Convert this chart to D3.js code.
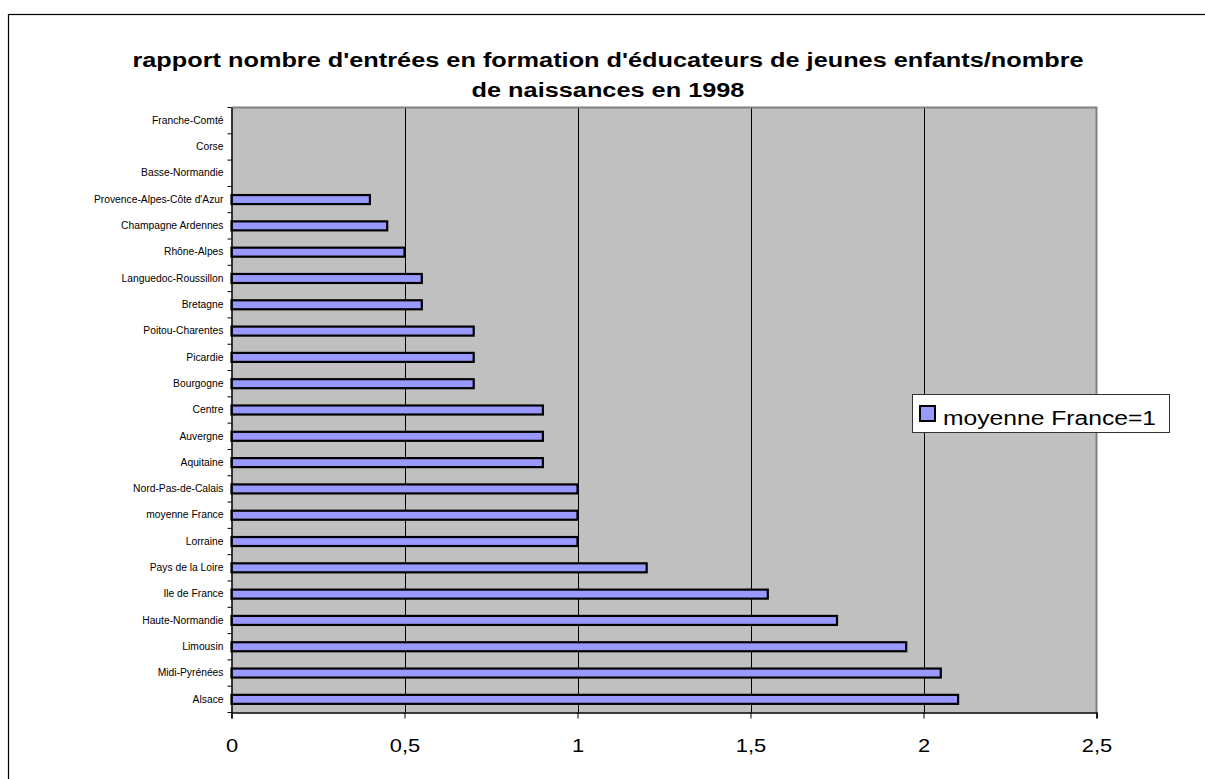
<!DOCTYPE html>
<html><head><meta charset="utf-8">
<script src="https://cdn.jsdelivr.net/npm/d3@7"></script>
<style>body{margin:0;background:#fff}svg{display:block}text{font-family:"Liberation Sans",Arial,sans-serif}</style>
</head><body><svg id="c" width="1205" height="779"></svg>
<script>
const categories = ["Alsace","Midi-Pyrénées","Limousin","Haute-Normandie","Ile de France","Pays de la Loire","Lorraine","moyenne France","Nord-Pas-de-Calais","Aquitaine","Auvergne","Centre","Bourgogne","Picardie","Poitou-Charentes","Bretagne","Languedoc-Roussillon","Rhône-Alpes","Champagne Ardennes","Provence-Alpes-Côte d'Azur","Basse-Normandie","Corse","Franche-Comté"];
const values = [2.1,2.05,1.95,1.75,1.55,1.2,1.0,1.0,1.0,0.9,0.9,0.9,0.7,0.7,0.7,0.55,0.55,0.5,0.45,0.4,0,0,0];
const xTicks = [0,0.5,1,1.5,2,2.5];
const xTickLabels = ["0","0,5","1","1,5","2","2,5"];
const seriesName = "moyenne France=1";
const titleLines = ["rapport nombre d'entrées en formation d'éducateurs de jeunes enfants/nombre","de naissances en 1998"];

const svg = d3.select("#c");
const L=231.5, R=1096.5, T=107.5, B=712.5;
function stretch(sel,k){ sel.each(function(){ const w=this.getComputedTextLength(); d3.select(this).attr("textLength",w*k).attr("lengthAdjust","spacingAndGlyphs"); }); }

// outer frame
svg.append("rect").attr("x",8.5).attr("y",14.5).attr("width",1300).attr("height",900).attr("fill","#fff").attr("stroke","#000").attr("stroke-width",1.2);
// title
const tt = svg.append("g").selectAll("text").data(titleLines).join("text")
  .attr("x",608).attr("y",(d,i)=>67+i*30).attr("text-anchor","middle")
  .attr("font-size",20).attr("font-weight","bold").attr("fill","#000").text(d=>d);
stretch(tt,1.265);

const x = d3.scaleLinear().domain([0,2.5]).range([L,R]);
const y = d3.scaleBand().domain(categories.slice().reverse()).range([T,B]);

svg.append("rect").attr("x",L).attr("y",T).attr("width",R-L).attr("height",B-T).attr("fill","#c0c0c0");
// gridlines
svg.append("g").selectAll("line").data(xTicks.slice(1,-1)).join("line")
  .attr("x1",d=>Math.round(x(d))+0.5).attr("x2",d=>Math.round(x(d))+0.5).attr("y1",T).attr("y2",B)
  .attr("stroke","#000").attr("stroke-width",1);
// plot border top/right gray
svg.append("path").attr("d",`M${L},${T}H${R}V${B}`).attr("fill","none").attr("stroke","#808080").attr("stroke-width",2);

// bars
const bh = 9;
svg.append("g").selectAll("rect").data(categories.map((c,i)=>({c,v:values[i]})).filter(d=>d.v>0)).join("rect")
  .attr("x",x(0)).attr("y",d=>y(d.c)+y.bandwidth()/2-bh/2)
  .attr("width",d=>x(d.v)-x(0)).attr("height",bh)
  .attr("fill","#9999ff").attr("stroke","#000").attr("stroke-width",2.2);

// y axis
const yAxis = d3.axisLeft(y).tickSize(0).tickPadding(8);
const gy = svg.append("g").attr("transform",`translate(${L},0)`).call(yAxis);
gy.select(".domain").attr("stroke","#000").attr("stroke-width",1.5);
gy.selectAll("text").attr("font-size",10).attr("fill","#000").attr("font-family","Liberation Sans, Arial, sans-serif");
stretch(gy.selectAll("text"),1.03);
// band boundary ticks
const bounds = d3.range(categories.length+1).map(i=>T+i*y.step());
svg.append("g").selectAll("line").data(bounds).join("line")
  .attr("x1",L-4).attr("x2",L).attr("y1",d=>d).attr("y2",d=>d).attr("stroke","#000").attr("stroke-width",1);

// x axis
const xAxis = d3.axisBottom(x).tickValues(xTicks).tickFormat((d,i)=>xTickLabels[i]).tickSize(6).tickPadding(20);
const gx = svg.append("g").attr("transform",`translate(0,${B})`).call(xAxis);
gx.select(".domain").attr("stroke","#000").attr("stroke-width",1.5);
gx.selectAll(".tick line").attr("stroke","#000");
gx.selectAll("text").attr("font-size",19).attr("fill","#000").attr("font-family","Liberation Sans, Arial, sans-serif");
stretch(gx.selectAll("text"),1.15);

// legend
const lg = svg.append("g");
lg.append("rect").attr("x",912.5).attr("y",394.5).attr("width",257).attr("height",38).attr("fill","#fff").attr("stroke","#333").attr("stroke-width",1);
lg.append("rect").attr("x",920).attr("y",406).attr("width",15).attr("height",15).attr("fill","#9999ff").attr("stroke","#000").attr("stroke-width",2);
const lt = lg.append("text").attr("x",943).attr("y",425).attr("font-size",19.5).attr("fill","#000").text(seriesName);
lt.attr("textLength",213).attr("lengthAdjust","spacingAndGlyphs");
</script></body></html>
